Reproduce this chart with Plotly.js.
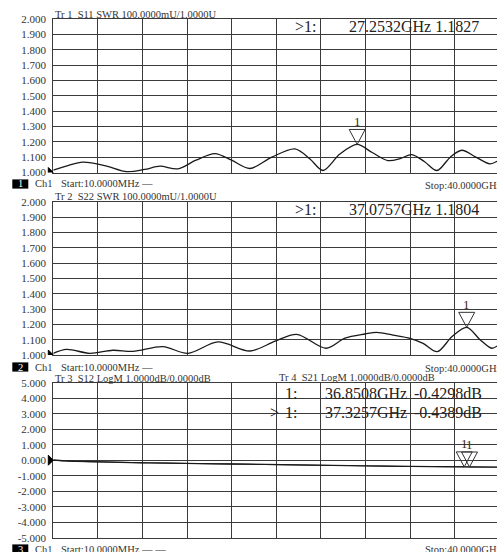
<!DOCTYPE html>
<html><head><meta charset="utf-8">
<script src="https://cdn.plot.ly/plotly-3.0.1.min.js"></script>
<style>html,body{margin:0;padding:0;background:#fff;}#chart{width:497px;height:552px;}</style>
</head><body><div id="chart"></div>
<script>
// ---- data (GHz / SWR / dB) ----
const freqS11 = [0.01, 1.32, 2.66, 4.64, 6.61, 8.2, 9.57, 11.18, 12.8, 14.5, 16.0, 17.64, 19.6, 21.67, 23.0, 24.19, 25.7, 27.25, 28.6, 30.0, 31.1, 32.15, 33.3, 34.41, 35.6, 36.63, 37.9, 39.15, 39.8];
const valS11  = [1.015, 1.045, 1.067, 1.045, 1.005, 1.020, 1.041, 1.024, 1.080, 1.123, 1.080, 1.026, 1.100, 1.154, 1.090, 1.013, 1.120, 1.183, 1.130, 1.078, 1.090, 1.117, 1.070, 1.013, 1.100, 1.145, 1.100, 1.056, 1.073];

const freqS22 = [0.01, 1.2, 3.29, 5.35, 7.15, 9.84, 12.08, 14.77, 17.64, 19.9, 21.83, 24.46, 26.16, 27.96, 29.0, 30.47, 31.99, 33.16, 34.44, 35.76, 37.08, 38.27, 39.32, 39.8];
const valS22  = [1.011, 1.037, 1.011, 1.031, 1.024, 1.054, 1.011, 1.085, 1.026, 1.090, 1.135, 1.044, 1.110, 1.137, 1.148, 1.130, 1.109, 1.076, 1.022, 1.120, 1.180, 1.100, 1.044, 1.059];

const freqLogM = [0.01, 1, 2, 4, 6, 8, 10, 13, 16, 19, 22, 25, 28, 31, 34, 36.85, 37.33, 39.8];
const valS12   = [0.02, -0.04, -0.07, -0.10, -0.13, -0.16, -0.18, -0.21, -0.24, -0.27, -0.30, -0.33, -0.36, -0.39, -0.41, -0.42, -0.43, -0.44];
const valS21   = [0.00, -0.05, -0.08, -0.11, -0.14, -0.17, -0.19, -0.22, -0.25, -0.28, -0.31, -0.34, -0.37, -0.40, -0.42, -0.4298, -0.4389, -0.45];

const markerFreqS11 = [27.2532], markerValS11 = [1.1827];
const markerFreqS22 = [37.0757], markerValS22 = [1.1804];
const markerFreqLogM = [36.8508, 37.3257], markerValLogM = [-0.4298, -0.4389];

const swrTickVals = [1.0, 1.1, 1.2, 1.3, 1.4, 1.5, 1.6, 1.7, 1.8, 1.9, 2.0];
const swrTickText = ["1.000","1.100","1.200","1.300","1.400","1.500","1.600","1.700","1.800","1.900","2.000"];
const logTickVals = [-5,-4,-3,-2,-1,0,1,2,3,4,5];
const logTickText = ["-5.000","-4.000","-3.000","-2.000","-1.000","0.000","1.000","2.000","3.000","4.000","5.000"];

const headers = ["Tr 1\u00a0\u00a0S11 SWR 100.0000mU/1.0000U", "Tr 2\u00a0\u00a0S22 SWR 100.0000mU/1.0000U",
                 "Tr 3\u00a0\u00a0S12 LogM 1.0000dB/0.0000dB", "Tr 4\u00a0\u00a0S21 LogM 1.0000dB/0.0000dB"];
const startText = ["Start:10.0000MHz \u2014", "Start:10.0000MHz \u2014", "Start:10.0000MHz \u2014\u00a0\u2014"];
const stopText = "Stop:40.0000GHz";

// ---- layout helpers ----
const W = 497, H = 552;
const px = v => v / W, py = v => 1 - v / H;
const GRID = '#3a3a3a';
const SERIF = 'Liberation Serif, DejaVu Serif, serif';
const xLeft = 53.3;

function xa(anchor){
  return {domain:[px(xLeft),1], range:[0.01, 39.79], tick0:0.01, dtick:3.999, showticklabels:false,
          ticks:'', showgrid:true, gridcolor:GRID, gridwidth:1, zeroline:false, showline:true, mirror:true,
          linecolor:GRID, linewidth:1, anchor:anchor, fixedrange:true};
}
function ya(dom, rng, tv, tt, anchor){
  return {domain:dom, range:rng, tickmode:'array', tickvals:tv, ticktext:tt, ticks:'', showgrid:true,
          gridcolor:GRID, gridwidth:1, zeroline:false, showline:true, mirror:false, linecolor:GRID, linewidth:1,
          tickfont:{family:SERIF, size:11, color:'#333'}, ticklabelstandoff:4, anchor:anchor, fixedrange:true};
}

const lineStyle = {color:'#1a1a1a', width:1.3, shape:'spline', smoothing:0.9};
const traces = [
  {x:freqS11, y:valS11, xaxis:'x', yaxis:'y', mode:'lines', line:lineStyle, hoverinfo:'skip'},
  {x:freqS22, y:valS22, xaxis:'x2', yaxis:'y2', mode:'lines', line:lineStyle, hoverinfo:'skip'},
  {x:freqLogM, y:valS12, xaxis:'x3', yaxis:'y3', mode:'lines', line:{color:'#1a1a1a', width:1.1, shape:'spline'}, hoverinfo:'skip'},
  {x:freqLogM, y:valS21, xaxis:'x3', yaxis:'y3', mode:'lines', line:{color:'#1a1a1a', width:1.1, shape:'spline'}, hoverinfo:'skip'}
];

const ann = [];
const shapes = [];
function txt(t, x, y, size, opts){
  ann.push(Object.assign({text:t, xref:'paper', yref:'paper', x:px(x), y:py(y), xanchor:'left', yanchor:'middle',
    showarrow:false, font:{family:SERIF, size:size, color:'#222'}}, opts||{}));
}
// headers
txt(headers[0], 53, 14, 10.5, {font:{family:SERIF,size:10.5,color:'#333'}});
txt(headers[1], 53, 196, 10.5, {font:{family:SERIF,size:10.5,color:'#333'}});
txt(headers[2], 53, 378, 10.5, {font:{family:SERIF,size:10.5,color:'#333'}});
txt(headers[3], 276.7, 377, 10.5, {font:{family:SERIF,size:10.5,color:'#333'}});
// readouts
const fmtG = f => f.toFixed(4) + 'GHz';
txt('>1:', 292.7, 27, 16);
txt(fmtG(markerFreqS11[0]) + ' ' + markerValS11[0].toFixed(4), 347, 27, 16);
txt('>1:', 292.7, 209, 16);
txt(fmtG(markerFreqS22[0]) + ' ' + markerValS22[0].toFixed(4), 347, 209, 16);
txt('1:', 283, 393, 16);
txt(fmtG(markerFreqLogM[0]), 322.7, 393, 16);
txt(markerValLogM[0].toFixed(4) + 'dB', 412, 393, 16);
txt('>', 268, 412, 16);
txt('1:', 283, 412, 16);
txt(fmtG(markerFreqLogM[1]), 322.7, 412, 16);
txt(markerValLogM[1].toFixed(4) + 'dB', 412, 412, 16);
// footers
const footY = [184, 367, 549];
footY.forEach((fy, i) => {
  shapes.push({type:'rect', xref:'paper', yref:'paper', x0:px(12.3), x1:px(28.3), y0:py(fy-4.6), y1:py(fy+4.6),
               fillcolor:'#000', line:{width:0}});
  txt(String(i+1), 20.3, fy, 10.5, {xanchor:'center', font:{family:SERIF,size:10.5,color:'#fff'}});
  txt('Ch1', 32.7, fy, 10.5, {font:{family:SERIF,size:10.5,color:'#333'}});
  txt(startText[i], 58.7, fy, 10.5, {font:{family:SERIF,size:10.5,color:'#333'}});
  txt(stopText, 422.7, fy + (i<2?1:0), 10.5, {font:{family:SERIF,size:10.5,color:'#333'}});
});
// reference-level triangles
[['y',1],['y2',1],['y3',0]].forEach(([yr, lv]) => {
  shapes.push({type:'path', xref:'paper', yref:yr, xsizemode:'pixel', ysizemode:'pixel', xanchor:px(xLeft), yanchor:lv,
               path:'M -5 5 L 0 0 L -5 -5 Z', fillcolor:'#000', line:{color:'#000', width:1}});
});
// marker triangles + labels
function markers(fr, vl, xr, yr){
  fr.forEach((f, i) => {
    shapes.push({type:'path', xref:xr, yref:yr, xsizemode:'pixel', ysizemode:'pixel', xanchor:f, yanchor:vl[i],
                 path:'M -8 15 L 8 15 L 0 0 Z', fillcolor:'rgba(0,0,0,0)', line:{color:'#333', width:1}});
    ann.push({text:'1', xref:xr, yref:yr, x:f, y:vl[i], yshift:23, showarrow:false, xanchor:'center', yanchor:'middle',
              font:{family:SERIF, size:13, color:'#3a2a10'}});
  });
}
markers(markerFreqS11, markerValS11, 'x', 'y');
markers(markerFreqS22, markerValS22, 'x2', 'y2');
markers(markerFreqLogM, markerValLogM, 'x3', 'y3');

const layout = {
  width:W, height:H, margin:{l:0, r:0, t:0, b:0}, paper_bgcolor:'#fff', plot_bgcolor:'#fff', showlegend:false,
  xaxis:xa('y'), xaxis2:xa('y2'), xaxis3:xa('y3'),
  yaxis:ya([py(172.5), py(19)], [1,2], swrTickVals, swrTickText, 'x'),
  yaxis2:ya([py(355), py(201.7)], [1,2], swrTickVals, swrTickText, 'x2'),
  yaxis3:ya([py(537.7), py(382.7)], [-5,5], logTickVals, logTickText, 'x3'),
  annotations:ann, shapes:shapes
};
Plotly.newPlot('chart', traces, layout, {displayModeBar:false, staticPlot:true});
</script></body></html>
